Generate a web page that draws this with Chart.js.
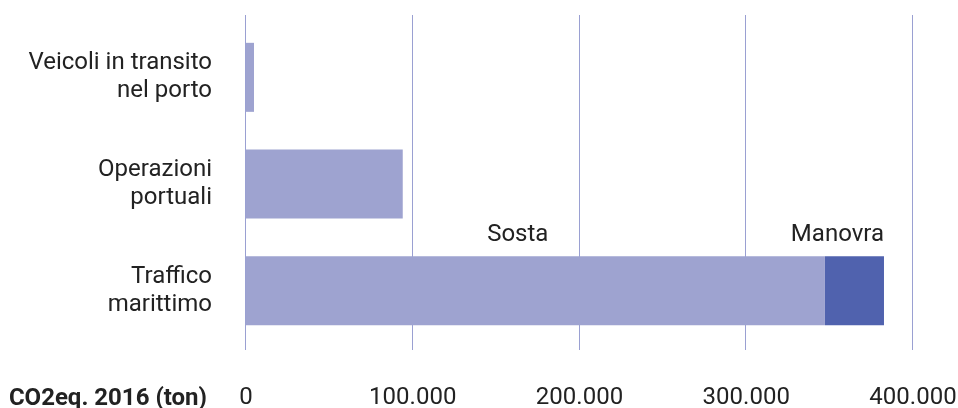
<!DOCTYPE html>
<html>
<head>
<meta charset="utf-8">
<script src="https://cdn.jsdelivr.net/npm/chart.js@4"></script>
<style>
  html, body { margin: 0; padding: 0; background: #ffffff; }
  #wrap { width: 958px; height: 408px; position: relative; }
</style>
</head>
<body>
<div id="wrap"><canvas id="c" width="958" height="408"></canvas></div>
<script>
const categories = [["Veicoli in transito", "nel porto"], ["Operazioni", "portuali"], ["Traffico", "marittimo"]];
const sostaValues = [4800, 94000, 347200];
const manovraValues = [0, 0, 35400];
const seriesNames = ["Sosta", "Manovra"];
const tickValues = [0, 100000, 200000, 300000, 400000];
const axisTitle = "CO2eq. 2016 (ton)";

const LIGHT = "#9ea3d0";
const DARK = "#5062ae";
const GRID = "#9aa0d2";
const TEXT = "#222222";
const FONT = "Roboto";
const FSIZE = 24;

function fmtIt(v) {
  return String(v).replace(/\B(?=(\d{3})+(?!\d))/g, ".");
}

const extrasPlugin = {
  id: "extras",
  beforeDatasetsDraw(chart) {
    const { ctx, chartArea, scales: { x } } = chart;
    ctx.save();
    ctx.strokeStyle = GRID;
    ctx.lineWidth = 1;
    tickValues.forEach(v => {
      const px = Math.round(x.getPixelForValue(v)) - 0.5;
      ctx.beginPath();
      ctx.moveTo(px, chartArea.top - 9);
      ctx.lineTo(px, chartArea.bottom + 6);
      ctx.stroke();
    });
    ctx.restore();
  },
  afterDatasetsDraw(chart) {
    const { ctx, scales: { x } } = chart;
    const m0 = chart.getDatasetMeta(0).data[2];
    const m1 = chart.getDatasetMeta(1).data[2];
    const top = m0.y - m0.height / 2;
    ctx.save();
    ctx.fillStyle = TEXT;
    ctx.font = FSIZE + "px " + FONT;
    ctx.textBaseline = "alphabetic";
    ctx.textAlign = "center";
    ctx.fillText(seriesNames[0], x.getPixelForValue(163000), top - 15);
    ctx.textAlign = "right";
    ctx.fillText(seriesNames[1], m1.x, top - 15);
    ctx.font = "bold " + FSIZE + "px " + FONT;
    ctx.fillText(axisTitle, 207, 405);
    ctx.restore();
  }
};

new Chart(document.getElementById("c"), {
  type: "bar",
  data: {
    labels: categories,
    datasets: [
      { label: seriesNames[0], data: sostaValues, backgroundColor: LIGHT, borderWidth: 0 },
      { label: seriesNames[1], data: manovraValues, backgroundColor: DARK, borderWidth: 0 }
    ]
  },
  options: {
    indexAxis: "y",
    responsive: false,
    animation: false,
    events: [],
    layout: { padding: { top: 24, right: 45, left: 0, bottom: 0 } },
    plugins: { legend: { display: false }, tooltip: { enabled: false } },
    datasets: { bar: { categoryPercentage: 1, barPercentage: 0.647 } },
    scales: {
      x: {
        stacked: true,
        min: 0,
        max: 400000,
        afterBuildTicks(s) { s.ticks = tickValues.map(v => ({ value: v })); },
        afterFit(s) { s.height = 64; s.paddingLeft = 0; s.paddingRight = 0; },
        grid: { display: false, drawTicks: false },
        border: { display: false },
        ticks: {
          padding: 40,
          color: TEXT,
          font: { family: FONT, size: FSIZE },
          callback: v => fmtIt(v),
          maxRotation: 0,
          autoSkip: false
        }
      },
      y: {
        stacked: true,
        afterFit(s) { s.width = 246; s.paddingTop = 0; s.paddingBottom = 0; },
        grid: { display: false, drawTicks: false },
        border: { display: false },
        ticks: {
          padding: 34,
          color: TEXT,
          font: { family: FONT, size: FSIZE, lineHeight: 1.17 }
        }
      }
    }
  },
  plugins: [extrasPlugin]
});
</script>
</body>
</html>
